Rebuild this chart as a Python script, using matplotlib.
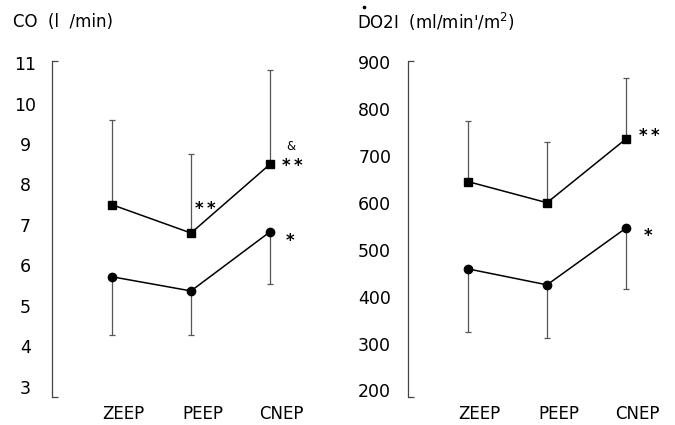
import numpy as np
import matplotlib.pyplot as plt
from matplotlib.lines import Line2D

plt.rcParams['font.family'] = ['DejaVu Sans']

conditions = ["ZEEP", "PEEP", "CNEP"]

# CO (l/min)
co_upper = [7.5, 6.8, 8.5]
co_upper_sd = [2.1, 1.95, 2.33]
co_lower = [5.72, 5.37, 6.83]
co_lower_sd = [1.44, 1.09, 1.29]

# DO2I (ml/min/m2)
do2i_upper = [645, 600, 736]
do2i_upper_sd = [129, 129, 130]
do2i_lower = [459, 425, 546]
do2i_lower_sd = [135, 113, 130]

W, H = 675, 425
fig = plt.figure(figsize=(W / 100, H / 100), dpi=100)


def panel(left_px, ylo, yhi, ticks, up, up_sd, lo, lo_sd, label_pad):
    spacing = 79.0
    first = 60.0
    width = 275.0
    ax = fig.add_axes([left_px / W, (H - 397) / H, width / W, (397 - 61) / H])
    x = np.arange(len(conditions))
    ax.set_xlim(-first / spacing, -first / spacing + width / spacing)
    ax.set_ylim(ylo, yhi)

    ax.errorbar(x, up, yerr=[np.zeros(3), up_sd], fmt='none', ecolor='#555555',
                elinewidth=0.9, capsize=2.5, capthick=0.9)
    ax.errorbar(x, lo, yerr=[lo_sd, np.zeros(3)], fmt='none', ecolor='#555555',
                elinewidth=0.9, capsize=2.5, capthick=0.9)
    ax.plot(x, up, color='black', lw=1.1, marker='s', ms=5.5, zorder=3)
    ax.plot(x, lo, color='black', lw=1.1, marker='o', ms=6, zorder=3)

    for s in ['top', 'right', 'bottom']:
        ax.spines[s].set_visible(False)
    ax.spines['left'].set_color('#444444')
    ax.spines['left'].set_linewidth(0.9)

    ax.set_yticks(ticks)
    ax.set_yticks([ylo, yhi], minor=True)
    ax.tick_params(axis='y', which='major', length=0, pad=label_pad, labelsize=12.5)
    ax.tick_params(axis='y', which='minor', length=4, direction='in', width=0.9,
                   color='#444444')
    for t in ax.get_yticklabels():
        t.set_horizontalalignment('center')

    ax.set_xticks(x + 0.15)
    ax.set_xticklabels(conditions)
    ax.tick_params(axis='x', length=0, pad=6, labelsize=12)
    return ax


ax1 = panel(52, 2.75, 11.05, list(range(3, 12)), co_upper, co_upper_sd,
            co_lower, co_lower_sd, 19)
ax2 = panel(408, 186, 902, list(range(200, 901, 100)), do2i_upper, do2i_upper_sd,
            do2i_lower, do2i_lower_sd, 24)

fig.text(13 / W, 1 - 22 / H, "CO  (l  /min)", fontsize=12, va='center')
fig.text(357 / W, 1 - 22 / H, "DO2I  (ml/min'/m$^2$)", fontsize=12, va='center')
fig.add_artist(Line2D([364 / W], [1 - 7 / H], marker='o', ms=1.6, color='black',
                      transform=fig.transFigure))

star = dict(fontsize=12, fontweight='bold', va='center')
ax1.text(1.05, 7.4, "*\u2009*", **star)
ax1.text(2.2, 8.95, "&", fontsize=8.5, va='center')
ax1.text(2.15, 8.45, "*\u2009*", **star)
ax1.text(2.2, 6.6, "*", **star)

ax2.text(2.17, 742, "*\u2009*", **star)
ax2.text(2.22, 530, "*", **star)

fig.savefig("out.png", dpi=100)
